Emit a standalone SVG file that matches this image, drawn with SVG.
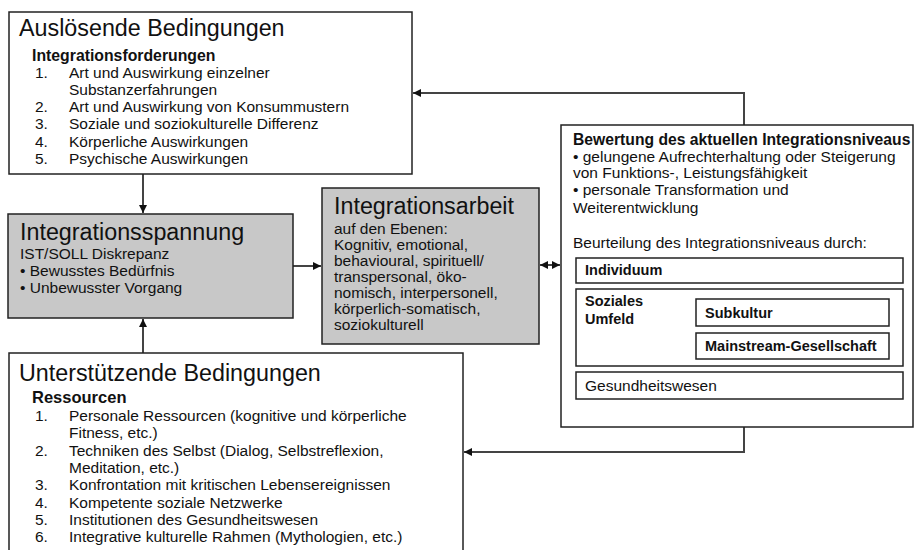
<svg xmlns="http://www.w3.org/2000/svg" width="915" height="550" viewBox="0 0 915 550">
<defs>
<style>
text{font-family:"Liberation Sans",Arial,sans-serif;fill:#111;}
.t{font-size:23.3px;}
.b{font-size:15.5px;}
.bb{font-size:15.8px;font-weight:bold;}
.sb{font-size:14.5px;font-weight:bold;}
.box{fill:#fff;stroke:#222;stroke-width:1.5;}
.grey{fill:#c8c8c8;stroke:#222;stroke-width:1.5;}
.conn{fill:none;stroke:#444;stroke-width:2;}
</style>
<marker id="ah" markerUnits="userSpaceOnUse" markerWidth="9" markerHeight="8" refX="8" refY="4" orient="auto-start-reverse">
<path d="M0,0 L8,4 L0,8 z" fill="#111"/>
</marker>
</defs>
<g id="connectors">
<line class="conn" x1="143" y1="174" x2="143" y2="213" marker-end="url(#ah)"/>
<line class="conn" x1="143" y1="353" x2="143" y2="319" marker-end="url(#ah)"/>
<line class="conn" x1="293" y1="266" x2="321" y2="266" marker-end="url(#ah)"/>
<line class="conn" x1="540" y1="265" x2="560" y2="265" marker-start="url(#ah)" marker-end="url(#ah)"/>
<path class="conn" d="M744,125 V93 H413" marker-end="url(#ah)"/>
<path class="conn" d="M744,427 V452 H464" marker-end="url(#ah)"/>
</g>
<g id="ausloesende">
<rect class="box" x="9" y="12" width="403" height="162"/>
<text class="t" x="19" y="36">Auslösende Bedingungen</text>
<text class="bb" x="32" y="61">Integrationsforderungen</text>
<text class="b" x="35" y="78">1.</text><text class="b" x="69" y="78">Art und Auswirkung einzelner</text>
<text class="b" x="69" y="95">Substanzerfahrungen</text>
<text class="b" x="35" y="112">2.</text><text class="b" x="69" y="112">Art und Auswirkung von Konsummustern</text>
<text class="b" x="35" y="129">3.</text><text class="b" x="69" y="129">Soziale und soziokulturelle Differenz</text>
<text class="b" x="35" y="147">4.</text><text class="b" x="69" y="147">Körperliche Auswirkungen</text>
<text class="b" x="35" y="164">5.</text><text class="b" x="69" y="164">Psychische Auswirkungen</text>
</g>
<g id="spannung">
<rect class="grey" x="8" y="214" width="285" height="104"/>
<text class="t" x="20" y="240">Integrationsspannung</text>
<text class="b" x="20" y="259">IST/SOLL Diskrepanz</text>
<text class="b" x="20" y="276">• Bewusstes Bedürfnis</text>
<text class="b" x="20" y="293">• Unbewusster Vorgang</text>
</g>
<g id="arbeit">
<rect class="grey" x="322" y="188" width="217" height="156"/>
<text class="t" x="334" y="214">Integrationsarbeit</text>
<text class="b" x="334" y="234">auf den Ebenen:</text>
<text class="b" x="334" y="250">Kognitiv, emotional,</text>
<text class="b" x="334" y="266">behavioural, spirituell/</text>
<text class="b" x="334" y="282">transpersonal, öko-</text>
<text class="b" x="334" y="298">nomisch, interpersonell,</text>
<text class="b" x="334" y="314">körperlich-somatisch,</text>
<text class="b" x="334" y="330">soziokulturell</text>
</g>
<g id="bewertung">
<rect class="box" x="561" y="125" width="352" height="302"/>
<text class="bb" x="573" y="145" style="font-size:15.7px">Bewertung des aktuellen Integrationsniveaus</text>
<text class="b" x="573" y="162">• gelungene Aufrechterhaltung oder Steigerung</text>
<text class="b" x="573" y="178">von Funktions-, Leistungsfähigkeit</text>
<text class="b" x="573" y="195">• personale Transformation und</text>
<text class="b" x="573" y="213">Weiterentwicklung</text>
<text class="b" x="573" y="248">Beurteilung des Integrationsniveaus durch:</text>
</g>
<g id="individuum">
<rect class="box" x="576" y="258" width="327" height="25"/>
<text class="sb" x="585" y="275">Individuum</text>
</g>
<g id="sozial">
<rect class="box" x="576" y="289" width="327" height="77"/>
<text class="sb" x="585" y="306">Soziales</text>
<text class="sb" x="585" y="324">Umfeld</text>
</g>
<g id="subkultur">
<rect class="box" x="696" y="299" width="193" height="27"/>
<text class="sb" x="705" y="318">Subkultur</text>
</g>
<g id="mainstream">
<rect class="box" x="696" y="333" width="193" height="26"/>
<text class="sb" x="705" y="351">Mainstream-Gesellschaft</text>
</g>
<g id="gesundheit">
<rect class="box" x="576" y="372" width="327" height="27"/>
<text class="b" x="585" y="391">Gesundheitswesen</text>
</g>
<g id="unterstuetzende">
<rect class="box" x="9" y="353" width="454" height="220"/>
<text class="t" x="19" y="381">Unterstützende Bedingungen</text>
<text class="bb" x="32" y="403" style="font-size:16.5px">Ressourcen</text>
<text class="b" x="35" y="421">1.</text><text class="b" x="69" y="421">Personale Ressourcen (kognitive und körperliche</text>
<text class="b" x="69" y="438">Fitness, etc.)</text>
<text class="b" x="35" y="456">2.</text><text class="b" x="69" y="456">Techniken des Selbst (Dialog, Selbstreflexion,</text>
<text class="b" x="69" y="473">Meditation, etc.)</text>
<text class="b" x="35" y="490">3.</text><text class="b" x="69" y="490">Konfrontation mit kritischen Lebensereignissen</text>
<text class="b" x="35" y="508">4.</text><text class="b" x="69" y="508">Kompetente soziale Netzwerke</text>
<text class="b" x="35" y="525">5.</text><text class="b" x="69" y="525">Institutionen des Gesundheitswesen</text>
<text class="b" x="35" y="542">6.</text><text class="b" x="69" y="542">Integrative kulturelle Rahmen (Mythologien, etc.)</text>
</g>
</svg>
